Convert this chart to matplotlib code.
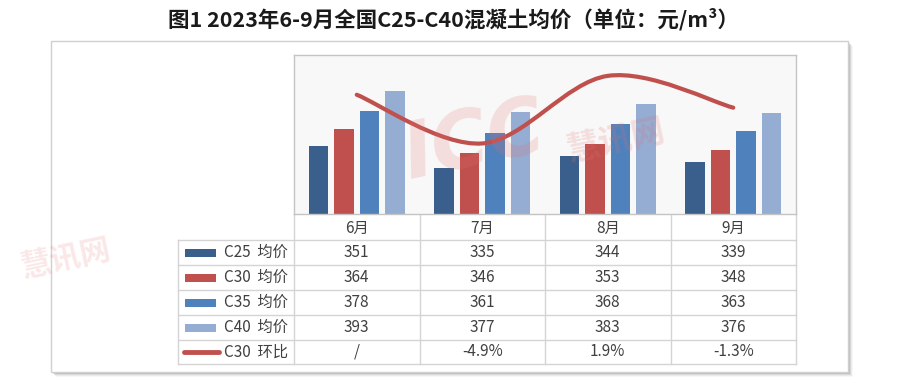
import numpy as np
import matplotlib
matplotlib.use('Agg')
import matplotlib.pyplot as plt
from matplotlib.path import Path
from matplotlib.patches import PathPatch, Rectangle
from matplotlib.lines import Line2D

plt.rcParams['font.family'] = ['Noto Sans CJK SC', 'DejaVu Sans']

# ---------------- data ----------------
months = ['6月', '7月', '8月', '9月']
series_names = ['C25 均价', 'C30 均价', 'C35 均价', 'C40 均价']
c25 = [351, 335, 344, 339]
c30 = [364, 346, 353, 348]
c35 = [378, 361, 368, 363]
c40 = [393, 377, 383, 376]
c30_mom = [0.0, -4.9, 1.9, -1.3]          # June has no previous month -> shown as "/"
c30_mom_labels = ['/', '-4.9%', '1.9%', '-1.3%']
line_name = 'C30 环比'
title = '图1 2023年6-9月全国C25-C40混凝土均价（单位：元/m³）'

bar_colors = ['#3B5F8D', '#C0504D', '#4F81BD', '#95ACD3']
line_color = '#C0504D'
grid_color = '#d4d4d4'
text_color = '#404040'

W, H = 900, 383
fig = plt.figure(figsize=(9, 3.83), dpi=100)


def fx(x):
    return x / W


def fy(y):
    return 1 - y / H


# overlay in pixel coordinates for frame / table
ov = fig.add_axes([0, 0, 1, 1], zorder=0)
ov.set_xlim(0, W)
ov.set_ylim(H, 0)
ov.axis('off')

# frame with shadow
fl, ft, fr, fb = 51, 41, 848, 372
for i, a in zip(range(5, 0, -1), [0.06, 0.10, 0.16, 0.24, 0.32]):
    ov.add_patch(Rectangle((fl + i, ft + i), fr - fl, fb - ft, facecolor='#7a7a7a',
                           alpha=a, edgecolor='none'))
ov.add_patch(Rectangle((fl, ft), fr - fl, fb - ft, facecolor='white',
                       edgecolor='#d0d0d0', lw=1))

# title
fig.text(fx(453), fy(19), title, ha='center', va='center', fontsize=15.5,
         fontweight='bold', color='#1a1a1a')

# ---------------- plot area ----------------
pl, pt, pr, pb = 294, 55, 796, 214
ax = fig.add_axes([fx(pl), fy(pb), fx(pr) - fx(pl), fy(pt) - fy(pb)], zorder=2)
ax.set_facecolor('#f8f8f8')
x = np.arange(len(months))
series = [c25, c30, c35, c40]
step, bw = 0.203, 0.154
for i, (vals, col) in enumerate(zip(series, bar_colors)):
    ax.bar(x + (i - 1.5) * step, vals, width=bw, color=col, zorder=2)
ax.set_xlim(-0.5, len(months) - 0.5)
ax.set_ylim(300, 420)
ax.set_xticks([])
ax.set_yticks([])
for s in ax.spines.values():
    s.set_color('#c4c4c4')
    s.set_linewidth(1)

ax2 = ax.twinx()
ax2.set_ylim(-12, 4)
ax2.set_yticks([])
for s in ax2.spines.values():
    s.set_visible(False)

# smooth line (Catmull-Rom -> cubic Bezier, like Excel smoothing)
pts = np.column_stack([x, c30_mom]).astype(float)
verts = [pts[0]]
codes = [Path.MOVETO]
n = len(pts)
for i in range(n - 1):
    p0 = pts[max(i - 1, 0)]
    p1 = pts[i]
    p2 = pts[i + 1]
    p3 = pts[min(i + 2, n - 1)]
    c1 = p1 + (p2 - p0) / 6
    c2 = p2 - (p3 - p1) / 6
    verts += [c1, c2, p2]
    codes += [Path.CURVE4] * 3
ax2.add_patch(PathPatch(Path(verts, codes), facecolor='none', edgecolor=line_color,
                        lw=3, capstyle='round', zorder=5))

# watermark
ax2.text(0.36, 0.45, 'ICC', transform=ax.transAxes, fontsize=56, fontweight='bold',
         style='italic', color='#e07070', alpha=0.2, rotation=12,
         ha='center', va='center', zorder=6, family=['DejaVu Sans'])
ax2.text(0.64, 0.46, '慧讯网', transform=ax.transAxes, fontsize=24, fontweight='bold',
         color='#e07070', alpha=0.2, rotation=12, ha='center', va='center', zorder=6)
fig.text(fx(66), fy(258), '慧讯网', fontsize=22, fontweight='bold', color='#e88080',
         alpha=0.18, rotation=12, ha='center', va='center')

# ---------------- data table ----------------
col_edges = np.linspace(pl, pr, len(months) + 1)
col_centers = (col_edges[:-1] + col_edges[1:]) / 2
row_edges = [214, 240, 265, 290, 315, 340, 364]
tl = 178
fs = 11

lk = dict(color=grid_color, lw=1, zorder=3)
for y in row_edges[1:]:
    ov.add_line(Line2D([tl, pr], [y, y], **lk))
ov.add_line(Line2D([tl, tl], [row_edges[1], row_edges[-1]], **lk))
for xe in col_edges:
    ov.add_line(Line2D([xe, xe], [row_edges[0], row_edges[-1]], **lk))

# header
hc = (row_edges[0] + row_edges[1]) / 2
for cx, m in zip(col_centers, months):
    ov.text(cx, hc + 1, m, ha='center', va='center', fontsize=fs, color=text_color)

for r in range(4):
    name, vals, col = series_names[r], series[r], bar_colors[r]
    yc = (row_edges[r + 1] + row_edges[r + 2]) / 2
    ov.add_patch(Rectangle((185, yc - 4), 31, 8, facecolor=col, edgecolor='none'))
    ov.text(224, yc, name.replace(' ', '  '), ha='left', va='center', fontsize=fs,
            color=text_color)
    for cx, v in zip(col_centers, vals):
        ov.text(cx, yc, str(v), ha='center', va='center', fontsize=fs, color=text_color)

yc = (row_edges[5] + row_edges[6]) / 2
ov.add_line(Line2D([184, 219], [yc, yc], color=line_color, lw=3.5, solid_capstyle='round'))
ov.text(224, yc, line_name.replace(' ', '  '), ha='left', va='center', fontsize=fs,
        color=text_color)
for cx, lab in zip(col_centers, c30_mom_labels):
    ov.text(cx, yc, lab, ha='center', va='center', fontsize=fs, color=text_color)

fig.savefig('out.png', dpi=100)
